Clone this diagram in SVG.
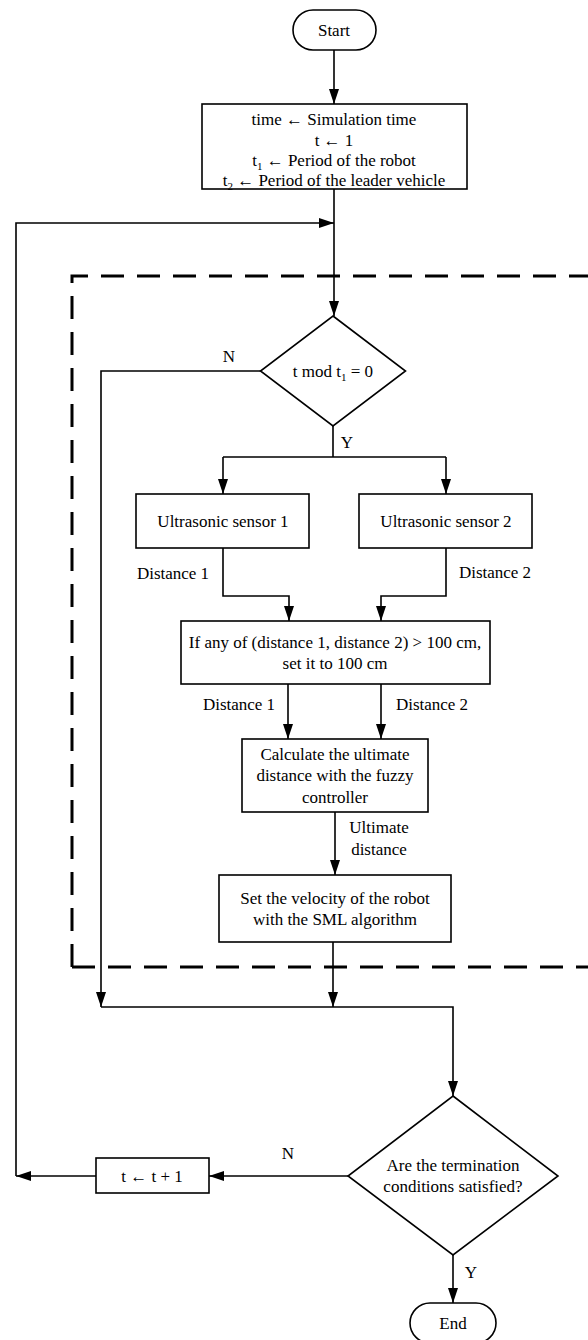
<svg xmlns="http://www.w3.org/2000/svg" width="588" height="1340" viewBox="0 0 588 1340">
<defs>
<marker id="arr" markerUnits="userSpaceOnUse" markerWidth="15" markerHeight="10" refX="15" refY="5" orient="auto">
<path d="M0,0 L15,5 L0,10 z" fill="#000"/>
</marker>
<style>
text{font-family:"Liberation Serif","Times New Roman",serif;font-size:17px;fill:#000;text-anchor:middle}
.n{fill:#fff;stroke:#000;stroke-width:1.6}
.c{fill:none;stroke:#000;stroke-width:1.6}
.a{marker-end:url(#arr)}
.d{fill:none;stroke:#000;stroke-width:3;stroke-dasharray:23 13}
.s{font-size:11px}
</style>
</defs>
<rect width="588" height="1340" fill="#fff"/>
<g id="group-dashed">
<path class="d" d="M72,967 V276 H600"/>
<path class="d" d="M72,967 H600"/>
</g>
<g id="connectors">
<path class="c a" d="M334,50 V104"/>
<path class="c a" d="M334,189 V316"/>
<path class="c a" d="M96,1176 H16"/>
<path class="c a" d="M16,1176 V223 H334"/>
<path class="c" d="M333,426 V457 M223,457 H446"/>
<path class="c a" d="M223,457 V494"/>
<path class="c a" d="M446,457 V494"/>
<path class="c a" d="M223,548 V596 H289 V621"/>
<path class="c a" d="M446,548 V596 H381 V621"/>
<path class="c a" d="M288,684 V739"/>
<path class="c a" d="M381,684 V739"/>
<path class="c a" d="M335,812 V875"/>
<path class="c a" d="M333,942 V1007"/>
<path class="c a" d="M261,371 H101 V1007"/>
<path class="c a" d="M101,1007 H453 V1096"/>
<path class="c a" d="M348,1176 H209"/>
<path class="c a" d="M453,1255 V1303"/>
<text x="229" y="362">N</text>
<text x="347" y="448">Y</text>
<text x="173" y="579">Distance 1</text>
<text x="495" y="578">Distance 2</text>
<text x="239" y="710">Distance 1</text>
<text x="432" y="710">Distance 2</text>
<text x="379" y="833">Ultimate</text>
<text x="379" y="855">distance</text>
<text x="288" y="1159">N</text>
<text x="471" y="1278">Y</text>
</g>
<g id="start">
<rect class="n" x="293" y="10" width="83" height="40" rx="20"/>
<text x="334" y="36">Start</text>
</g>
<g id="init">
<rect class="n" x="202" y="104" width="265" height="85"/>
<text x="334" y="125">time ← Simulation time</text>
<text x="334" y="146">t ← 1</text>
<text x="334" y="166">t<tspan class="s" dy="4">1</tspan><tspan dy="-4"> ← Period of the robot</tspan></text>
<text x="334" y="186">t<tspan class="s" dy="4">2</tspan><tspan dy="-4"> ← Period of the leader vehicle</tspan></text>
</g>
<g id="decision1">
<path class="n" d="M333,316 L405.5,371 L333,426 L260.5,371 z"/>
<text x="333" y="377">t mod t<tspan class="s" dy="4">1</tspan><tspan dy="-4"> = 0</tspan></text>
</g>
<g id="sensor1">
<rect class="n" x="136" y="494" width="173" height="54"/>
<text x="223" y="527">Ultrasonic sensor 1</text>
</g>
<g id="sensor2">
<rect class="n" x="359" y="494" width="173" height="54"/>
<text x="446" y="527">Ultrasonic sensor 2</text>
</g>
<g id="clamp">
<rect class="n" x="181" y="621" width="309" height="63"/>
<text x="335" y="648">If any of (distance 1, distance 2) &gt; 100 cm,</text>
<text x="335" y="669">set it to 100 cm</text>
</g>
<g id="fuzzy">
<rect class="n" x="242" y="739" width="186" height="73"/>
<text x="335" y="760">Calculate the ultimate</text>
<text x="335" y="781">distance with the fuzzy</text>
<text x="335" y="803">controller</text>
</g>
<g id="sml">
<rect class="n" x="219" y="875" width="232" height="67"/>
<text x="335" y="904">Set the velocity of the robot</text>
<text x="335" y="925">with the SML algorithm</text>
</g>
<g id="decision2">
<path class="n" d="M453,1096 L558,1176 L453,1255 L348,1176 z"/>
<text x="453" y="1171">Are the termination</text>
<text x="453" y="1192">conditions satisfied?</text>
</g>
<g id="increment">
<rect class="n" x="96" y="1158" width="113" height="35"/>
<text x="152" y="1182">t ← t + 1</text>
</g>
<g id="end">
<rect class="n" x="410" y="1303" width="86" height="40" rx="20"/>
<text x="453" y="1329">End</text>
</g>
</svg>
